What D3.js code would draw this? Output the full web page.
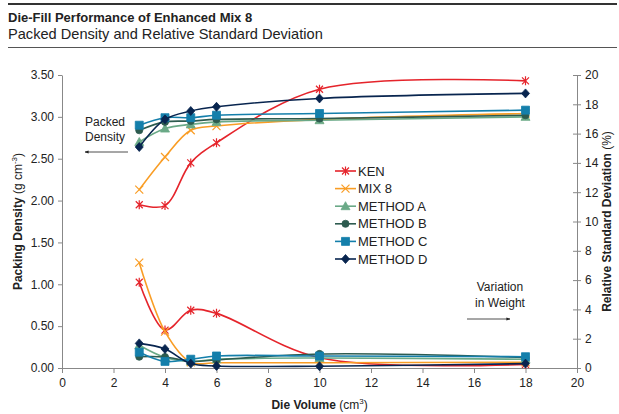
<!DOCTYPE html>
<html>
<head>
<meta charset="utf-8">
<script src="https://cdn.jsdelivr.net/npm/d3@7"></script>
<style>
  body { margin: 0; background: #fff; }
  text { font-family: "Liberation Sans", Arial, sans-serif; fill: #222; }
</style>
</head>
<body>
<div id="chart"></div>
<script>
"use strict";

// die volumes (cm3)
const volumes = [3, 4, 5, 6, 10, 18];
const seriesNames = ["KEN", "MIX 8", "METHOD A", "METHOD B", "METHOD C", "METHOD D"];

// packing density, g cm-3 (left axis)
const densityKEN = [1.95, 1.94, 2.45, 2.69, 3.33, 3.43];
const densityMix8 = [2.13, 2.52, 2.84, 2.89, 2.97, 3.04];
const densityA = [2.70, 2.86, 2.91, 2.94, 2.96, 3.00];
const densityB = [2.84, 2.94, 2.95, 2.97, 2.98, 3.02];
const densityC = [2.90, 2.99, 2.99, 3.02, 3.04, 3.08];
const densityD = [2.64, 2.97, 3.07, 3.12, 3.22, 3.28];

// relative standard deviation, % (right axis)
const rsdKEN = [5.85, 2.59, 3.94, 3.73, 0.7, 0.25];
const rsdMix8 = [7.19, 2.48, 0.39, 0.36, 0.36, 0.39];
const rsdA = [1.55, 0.72, 0.45, 0.6, 0.68, 0.6];
const rsdB = [0.77, 0.75, 0.45, 0.55, 0.96, 0.72];
const rsdC = [1.08, 0.45, 0.6, 0.82, 0.82, 0.77];
const rsdD = [1.68, 1.30, 0.3, 0.14, 0.12, 0.3];

const xTicks = d3.range(0, 21, 2);
const leftTicks = d3.range(0, 3.51, 0.5);
const rightTicks = d3.range(0, 21, 2);

const colours = ["#e5242b", "#f99d25", "#6aa987", "#2d5b4f", "#147fab", "#08254f"];
const markers = ["star", "cross", "triangle", "circle", "square", "diamond"];

const densities = [densityKEN, densityMix8, densityA, densityB, densityC, densityD];
const rsds = [rsdKEN, rsdMix8, rsdA, rsdB, rsdC, rsdD];

const W = 619, H = 414;
const margin = { top: 75, right: 42, bottom: 46, left: 62 };

const svg = d3.select("#chart").append("svg")
  .attr("width", W).attr("height", H)
  .attr("viewBox", [0, 0, W, H]);

// header
svg.append("line").attr("x1", 8).attr("x2", 617).attr("y1", 4).attr("y2", 4)
  .attr("stroke", "#333").attr("stroke-width", 2);
svg.append("text").attr("x", 8).attr("y", 22)
  .style("font-size", "13px").style("font-weight", "bold")
  .text("Die-Fill Performance of Enhanced Mix 8");
svg.append("text").attr("x", 8).attr("y", 39)
  .style("font-size", "14.6px")
  .text("Packed Density and Relative Standard Deviation");
svg.append("line").attr("x1", 8).attr("x2", 617).attr("y1", 47.5).attr("y2", 47.5)
  .attr("stroke", "#555").attr("stroke-width", 1);

const x = d3.scaleLinear().domain([0, 20]).range([margin.left, W - margin.right]);
const yL = d3.scaleLinear().domain([0, 3.5]).range([H - margin.bottom, margin.top]);
const yR = d3.scaleLinear().domain([0, 20]).range([H - margin.bottom, margin.top]);

const axisColour = "#888";

function styleAxis(g) {
  g.selectAll("path,line").attr("stroke", axisColour);
  g.selectAll("text").style("font-size", "12px").attr("fill", "#333")
    .style("font-family", '"Liberation Sans", Arial, sans-serif');
}

svg.append("g")
  .attr("transform", `translate(0,${H - margin.bottom})`)
  .call(d3.axisBottom(x).tickValues(xTicks).tickSize(5).tickSizeOuter(0).tickPadding(5))
  .call(styleAxis);

svg.append("g")
  .attr("transform", `translate(${margin.left},0)`)
  .call(d3.axisLeft(yL).tickValues(leftTicks).tickFormat(d3.format(".2f")).tickSize(4).tickSizeOuter(0).tickPadding(4))
  .call(styleAxis);

const rightAxis = svg.append("g")
  .attr("transform", `translate(${W - margin.right},0)`)
  .call(d3.axisRight(yR).tickValues(rightTicks).tickSize(4).tickSizeOuter(0).tickPadding(4))
  .call(styleAxis);
rightAxis.selectAll(".tick line").attr("x1", -4);

// axis titles
const leftTitle = svg.append("text")
  .attr("transform", `translate(22,${(margin.top + H - margin.bottom) / 2}) rotate(-90)`)
  .attr("text-anchor", "middle").style("font-size", "12px");
leftTitle.append("tspan").style("font-weight", "bold").text("Packing Density ");
leftTitle.append("tspan").text("(g cm");
leftTitle.append("tspan").attr("dy", -5).style("font-size", "8px").text("-3");
leftTitle.append("tspan").attr("dy", 5).text(")");

const rightTitle = svg.append("text")
  .attr("transform", `translate(611,${(margin.top + H - margin.bottom) / 2}) rotate(-90)`)
  .attr("text-anchor", "middle").style("font-size", "12px");
rightTitle.append("tspan").style("font-weight", "bold").text("Relative Standard Deviation ");
rightTitle.append("tspan").text("(%)");

const bottomTitle = svg.append("text")
  .attr("x", (margin.left + W - margin.right) / 2).attr("y", 409)
  .attr("text-anchor", "middle").style("font-size", "12px");
bottomTitle.append("tspan").style("font-weight", "bold").text("Die Volume ");
bottomTitle.append("tspan").text("(cm");
bottomTitle.append("tspan").attr("dy", -5).style("font-size", "8px").text("3");
bottomTitle.append("tspan").attr("dy", 5).text(")");

// marker shapes
function markerPath(type) {
  switch (type) {
    case "star": return "M-3.5,-3.5L3.5,3.5M-3.5,3.5L3.5,-3.5M0,-4.5L0,4.5";
    case "cross": return "M-4,-4L4,4M-4,4L4,-4";
    case "triangle": return "M0,-4.5L4.5,3.5L-4.5,3.5Z";
    case "circle": return d3.symbol(d3.symbolCircle, 40)();
    case "square": return "M-4,-4L4,-4L4,4L-4,4Z";
    case "diamond": return "M0,-4.5L4,0L0,4.5L-4,0Z";
  }
}
function isStroked(type) { return type === "star" || type === "cross"; }

function drawMarker(g, type, colour) {
  g.append("path").attr("d", markerPath(type))
    .attr("fill", isStroked(type) ? "none" : colour)
    .attr("stroke", colour)
    .attr("stroke-width", isStroked(type) ? 1.2 : 0.8);
}

function drawSeries(values, yScale, i) {
  const pts = volumes.map((v, j) => [v, values[j]]);
  const line = d3.line()
    .x(d => x(d[0])).y(d => yScale(d[1]))
    .curve(d3.curveCatmullRom.alpha(0.5));
  const g = svg.append("g").attr("class", "series");
  g.append("path").datum(pts).attr("d", line)
    .attr("fill", "none").attr("stroke", colours[i]).attr("stroke-width", 1.6);
  g.selectAll("g.pt").data(pts).join("g").attr("class", "pt")
    .attr("transform", d => `translate(${x(d[0])},${yScale(d[1])})`)
    .each(function () { drawMarker(d3.select(this), markers[i], colours[i]); });
}

rsds.forEach((vals, i) => drawSeries(vals, yR, i));
densities.forEach((vals, i) => drawSeries(vals, yL, i));

// legend
const legend = svg.append("g").attr("transform", "translate(335,171)");
seriesNames.forEach((name, i) => {
  const row = legend.append("g").attr("transform", `translate(0,${i * 17.6})`);
  row.append("line").attr("x1", 0).attr("x2", 21).attr("stroke", colours[i]).attr("stroke-width", 1.6);
  drawMarker(row.append("g").attr("transform", "translate(10.5,0)"), markers[i], colours[i]);
  row.append("text").attr("x", 23).attr("y", 4.5).style("font-size", "13px").text(name);
});

// annotations
svg.append("defs").append("marker")
  .attr("id", "arrow").attr("viewBox", "0 0 10 10")
  .attr("refX", 9).attr("refY", 5).attr("markerWidth", 5).attr("markerHeight", 5)
  .attr("orient", "auto-start-reverse")
  .append("path").attr("d", "M0,1L10,5L0,9Z").attr("fill", "#222");

svg.append("text").attr("x", 105).attr("y", 126).attr("text-anchor", "middle")
  .style("font-size", "12px").text("Packed");
svg.append("text").attr("x", 105).attr("y", 141).attr("text-anchor", "middle")
  .style("font-size", "12px").text("Density");
svg.append("line").attr("x1", 128).attr("x2", 85).attr("y1", 152).attr("y2", 152)
  .attr("stroke", "#222").attr("stroke-width", 0.8).attr("marker-end", "url(#arrow)");

svg.append("text").attr("x", 500).attr("y", 291).attr("text-anchor", "middle")
  .style("font-size", "12px").text("Variation");
svg.append("text").attr("x", 500).attr("y", 307).attr("text-anchor", "middle")
  .style("font-size", "12px").text("in Weight");
svg.append("line").attr("x1", 467).attr("x2", 510).attr("y1", 319).attr("y2", 319)
  .attr("stroke", "#222").attr("stroke-width", 0.8).attr("marker-end", "url(#arrow)");
</script>
</body>
</html>
